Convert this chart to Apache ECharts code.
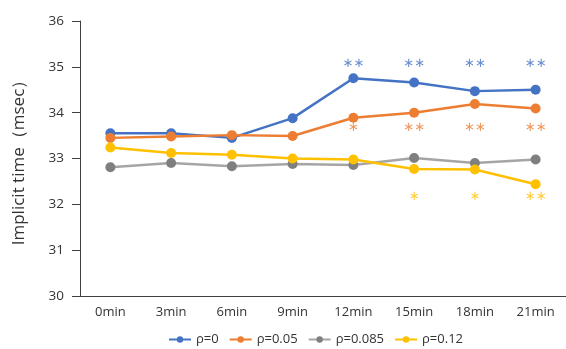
<!DOCTYPE html>
<html>
<head>
<meta charset="utf-8">
<script src="https://cdn.jsdelivr.net/npm/echarts@6/dist/echarts.min.js"></script>
<style>
  html, body { margin: 0; padding: 0; background: #fff; }
  #chart { width: 566px; height: 349px; }
</style>
</head>
<body>
<div id="chart"></div>
<script>
// Time points after onset
const categories = ['0min', '3min', '6min', '9min', '12min', '15min', '18min', '21min'];

// Implicit time (msec) for each contrast level
const rho0    = [33.55, 33.55, 33.45, 33.88, 34.75, 34.66, 34.47, 34.50];
const rho005  = [33.45, 33.48, 33.51, 33.49, 33.89, 34.00, 34.19, 34.09];
const rho0085 = [32.81, 32.90, 32.83, 32.88, 32.86, 33.01, 32.90, 32.98];
const rho012  = [33.24, 33.12, 33.08, 33.00, 32.98, 32.77, 32.76, 32.44];

// Significance markers per time point
const sig0    = ['', '', '', '', '**', '**', '**', '**'];
const sig005  = ['', '', '', '', '*', '**', '**', '**'];
const sig012  = ['', '', '', '', '', '*', '*', '**'];

// Y axis range and step
const yMin = 30, yMax = 36, yStep = 1;

const seriesNames = ['ρ=0', 'ρ=0.05', 'ρ=0.085', 'ρ=0.12'];
const lineColors  = ['#4472C4', '#ED7D31', '#A5A5A5', '#FFC000'];
const dotColors   = ['#4472C4', '#ED7D31', '#7F7F7F', '#FFC000'];

const font = '"Open Sans", "Liberation Sans", sans-serif';

function lineSeries(name, data, i) {
  return {
    name: name,
    type: 'line',
    data: data,
    symbol: 'circle',
    symbolSize: 10,
    lineStyle: { color: lineColors[i], width: 2.5 },
    itemStyle: { color: dotColors[i] },
    z: 3 + i
  };
}

// Star annotations sit on a fixed row for each group
function starSeries(sig, level, color) {
  return {
    type: 'scatter',
    symbol: 'circle',
    symbolSize: 1,
    silent: true,
    itemStyle: { color: 'rgba(0,0,0,0)' },
    data: sig.map((s, k) => s ? [categories[k], level, s] : null).filter(d => d),
    label: {
      show: true,
      position: 'inside',
      formatter: p => p.data[2].replace(/\*/g, '∗'),
      color: color,
      fontSize: 13,
      fontFamily: '"DejaVu Sans", sans-serif'
    },
    z: 10
  };
}

const chart = echarts.init(document.getElementById('chart'), null, { renderer: 'canvas' });
chart.setOption({
  animation: false,
  backgroundColor: '#ffffff',
  grid: { left: 80, right: -1, top: 21, bottom: 53, containLabel: false },
  legend: {
    data: seriesNames,
    left: 163,
    bottom: -2,
    itemWidth: 22,
    itemHeight: 8,
    itemGap: 10,
    textStyle: { fontSize: 13, color: '#333', fontFamily: font }
  },
  xAxis: {
    type: 'category',
    data: categories,
    boundaryGap: true,
    axisLine: { lineStyle: { color: '#404040', width: 1 } },
    axisTick: { alignWithLabel: true, length: 7, lineStyle: { color: '#404040' } },
    axisLabel: { fontSize: 13, color: '#333', margin: 10, fontFamily: font }
  },
  yAxis: {
    type: 'value',
    min: yMin,
    max: yMax,
    interval: yStep,
    name: 'Implicit time（msec）',
    nameLocation: 'middle',
    nameGap: 52,
    nameTextStyle: { fontSize: 17, color: '#333', fontFamily: font },
    axisLine: { show: true, lineStyle: { color: '#404040', width: 1 } },
    axisTick: { show: true, length: 8, lineStyle: { color: '#404040' } },
    axisLabel: { fontSize: 13.5, color: '#333', margin: 16, fontFamily: font },
    splitLine: { show: false }
  },
  series: [
    lineSeries(seriesNames[0], rho0, 0),
    lineSeries(seriesNames[1], rho005, 1),
    lineSeries(seriesNames[2], rho0085, 2),
    lineSeries(seriesNames[3], rho012, 3),
    starSeries(sig0, 35.06, lineColors[0]),
    starSeries(sig005, 33.68, lineColors[1]),
    starSeries(sig012, 32.17, lineColors[3])
  ]
});
</script>
</body>
</html>
